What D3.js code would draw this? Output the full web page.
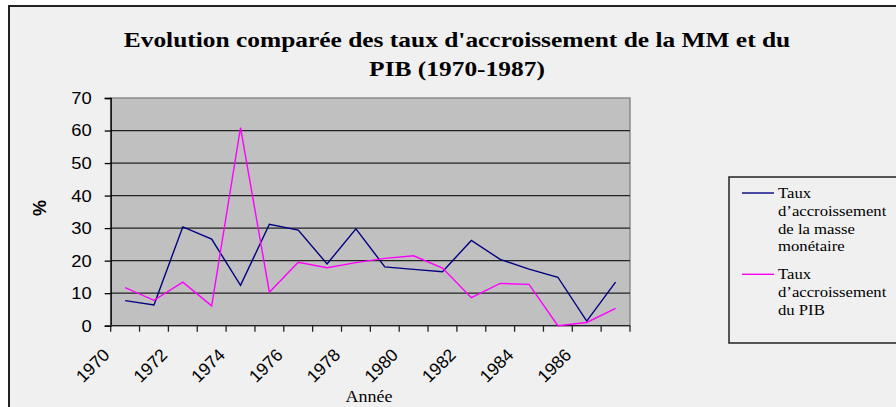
<!DOCTYPE html>
<html><head><meta charset="utf-8">
<script src="https://cdn.jsdelivr.net/npm/d3@7"></script>
<style>html,body{margin:0;padding:0;background:#fff;}svg{display:block;}</style>
</head><body>
<svg id="c" width="896" height="407"></svg>
<script>
const years = [1970,1971,1972,1973,1974,1975,1976,1977,1978,1979,1980,1981,1982,1983,1984,1985,1986,1987];
const tickYears = [1970,1972,1974,1976,1978,1980,1982,1984,1986];
const yTicks = [0,10,20,30,40,50,60,70];
const mm  = [7.7, 6.4, 30.4, 26.6, 12.4, 31.2, 29.4, 19.0, 29.8, 18.1, 17.3, 16.6, 26.2, 20.4, 17.4, 14.9, 1.4, 13.4];
const pib = [11.7, 7.8, 13.4, 6.1, 60.9, 10.3, 19.5, 17.8, 19.4, 20.7, 21.5, 17.7, 8.6, 13.0, 12.7, 0.0, 1.0, 5.3];
const seriesNames = [["Taux","d\u2019accroissement","de la masse","monétaire"],["Taux","d\u2019accroissement","du PIB"]];
const colors = ["#000080","#ff00ff"];
const titleLines = ["Evolution comparée des taux d'accroissement de la MM et du","PIB (1970-1987)"];

const svg = d3.select("#c");
function stretch(sel, f){
  sel.each(function(){ const w=this.getComputedTextLength(); d3.select(this).attr("textLength",w*f).attr("lengthAdjust","spacingAndGlyphs"); });
}
// chart area
svg.append("rect").attr("x",9).attr("y",6).attr("width",900).attr("height",420)
  .attr("fill","#f0f0f0").attr("stroke","#222").attr("stroke-width",2);

const L=110.7, R=630, T=98, B=325.7;
const x = d3.scaleBand().domain(years).range([L,R]).padding(0);
const y = d3.scaleLinear().domain([0,70]).range([B,T]);

svg.append("rect").attr("x",L).attr("y",T).attr("width",R-L).attr("height",B-T)
  .attr("fill","#c0c0c0").attr("stroke","#8a8a8a").attr("stroke-width",1.5);

// gridlines
svg.append("g").selectAll("line").data(yTicks.filter(d=>d>0&&d<70)).join("line")
  .attr("x1",L).attr("x2",R).attr("y1",d=>y(d)).attr("y2",d=>y(d))
  .attr("stroke","#222").attr("stroke-width",1.3);

// y axis
const ya = svg.append("g").attr("transform",`translate(${L},0)`)
  .call(d3.axisLeft(y).tickValues(yTicks).tickSize(6).tickPadding(13).tickFormat(d3.format("d")));
ya.select(".domain").attr("stroke","#000").attr("stroke-width",1.3);
ya.selectAll(".tick line").attr("stroke","#000").attr("stroke-width",1.3);
ya.selectAll("text").attr("font-family","Liberation Sans, Arial, sans-serif").attr("font-size",17).attr("fill","#000");
stretch(ya.selectAll("text"),1.08);

// x axis
svg.append("line").attr("x1",L).attr("x2",R).attr("y1",B).attr("y2",B).attr("stroke","#222").attr("stroke-width",1.3);
const bounds = years.map(d=>x(d)).concat([x(years[years.length-1])+x.bandwidth()]);
svg.append("g").selectAll("line").data(bounds).join("line")
  .attr("x1",d=>d).attr("x2",d=>d).attr("y1",B).attr("y2",B+6)
  .attr("stroke","#222").attr("stroke-width",1.3);
const xl = svg.append("g").selectAll("text").data(tickYears).join("text")
  .attr("transform",d=>`translate(${x(d)},356) rotate(-45)`)
  .attr("text-anchor","end")
  .attr("font-family","Liberation Sans, Arial, sans-serif").attr("font-size",17.5).attr("fill","#000")
  .text(d=>d);

// lines
const line = d3.line().x((d,i)=>x(years[i])+x.bandwidth()/2).y(d=>y(d));
[mm,pib].forEach((s,k)=>{
  svg.append("path").datum(s).attr("d",line).attr("fill","none")
    .attr("stroke",colors[k]).attr("stroke-width",1.4);
});

// title
const tt = svg.append("g").selectAll("text").data(titleLines).join("text")
  .attr("x",457).attr("y",(d,i)=>47+i*29).attr("text-anchor","middle")
  .attr("font-family","Liberation Serif, Times New Roman, serif").attr("font-weight","bold")
  .attr("font-size",21).attr("fill","#000")
  .text(d=>d);
stretch(tt,1.21);

// axis titles
const at = svg.append("text").attr("x",369).attr("y",402).attr("text-anchor","middle")
  .attr("font-family","Liberation Serif, Times New Roman, serif").attr("font-size",16).text("Année");
stretch(at,1.12);
svg.append("text").attr("transform","translate(46,208) rotate(-90)").attr("text-anchor","middle")
  .attr("font-family","Liberation Sans, Arial, sans-serif").attr("font-weight","bold").attr("font-size",18).text("%");

// legend
svg.append("rect").attr("x",729).attr("y",177).attr("width",200).attr("height",166)
  .attr("fill","#f0f0f0").attr("stroke","#222").attr("stroke-width",1.5);
const legY = [193, 274.3];
seriesNames.forEach((lines,k)=>{
  svg.append("line").attr("x1",742).attr("x2",774).attr("y1",legY[k]).attr("y2",legY[k])
    .attr("stroke",colors[k]).attr("stroke-width",1.4);
  const lt = svg.append("g").selectAll("text").data(lines).join("text")
    .attr("x",778).attr("y",(d,i)=>legY[k]+5+i*17.8)
    .attr("font-family","Liberation Serif, Times New Roman, serif").attr("font-size",14.5).attr("fill","#000")
    .text(d=>d);
  stretch(lt,1.15);
});
</script>
</body></html>
